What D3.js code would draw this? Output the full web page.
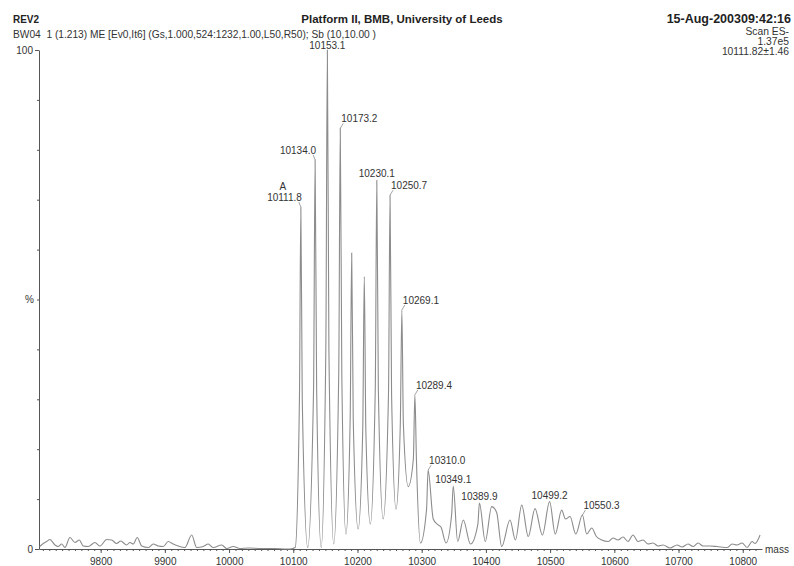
<!DOCTYPE html>
<html>
<head>
<meta charset="utf-8">
<script src="https://cdn.jsdelivr.net/npm/d3@7/dist/d3.min.js"></script>
<style>
  body { margin: 0; background: #fff; }
  svg { display: block; font-family: "Liberation Sans", Arial, sans-serif; }
  .axis path, .axis line { stroke: #555; }
  .axis text { fill: #333; font-size: 10px; font-family: "Liberation Sans", Arial, sans-serif; }
</style>
</head>
<body>
<div id="main"></div>
<script>
// spectrum profile (mass, % intensity)
const leftMass = [9705, 9710.6, 9716, 9721, 9728.8, 9733.9, 9739.2, 9744.4, 9752.2, 9760, 9766.7, 9772.9,
  9780.7, 9791.2, 9799, 9809.4, 9817.1, 9824.9, 9831.2, 9840.5, 9845.6, 9850.8, 9857, 9863.9, 9874.1,
  9881.9, 9889.7, 9897.5, 9905.3, 9913.1, 9920.9, 9931.3, 9941.8, 9949.5, 9959.8, 9967.6, 9975.4,
  9988.5, 9996.3, 10006.6, 10017, 10030, 10050, 10070, 10090];
const leftInt = [0.5, 1.1, 1.5, 1.9, 0.8, 0.5, 1.0, 0.3, 2.3, 1.3, 1.8, 0.6,
  0.5, 1.3, 0.6, 1.9, 1.8, 1.1, 1.6, 0.8, 1.3, 1.0, 2.3, 0.6, 0.3,
  1.0, 0.6, 0.5, 1.5, 1.0, 0.6, 0.3, 2.8, 0.3, 0.5, 1.0, 0.3,
  0.8, 0.1, 0.5, 0.1, 0.2, 0.1, 0.1, 0.0];

const mainMass = [10095, 10103, 10109.6, 10111.8, 10114, 10122.5, 10131.6, 10134, 10136.4, 10143.5,
  10150.7, 10153.1, 10155.5, 10163, 10170.8, 10173.2, 10175.6, 10182, 10188.6, 10191, 10193.4, 10201,
  10208.2, 10210.6, 10213, 10220, 10227.7, 10230.1, 10232.5, 10240, 10248.3, 10250.7, 10253.1, 10260,
  10266.7, 10269.1, 10271.5, 10279, 10287, 10289.4, 10291.8, 10298, 10307.6, 10310, 10318, 10324, 10330,
  10338, 10346.7, 10349.1, 10356, 10364.8, 10376, 10387.5, 10389.9, 10399, 10409, 10416.8, 10424.6,
  10437.5, 10446, 10455.8, 10466, 10476.5, 10488, 10499.2, 10508, 10518, 10524, 10531, 10540, 10550.3,
  10557, 10564.8, 10572];
const mainInt = [0, 0.3, 30, 68.5, 30, 0.3, 32, 78, 32, 0.3,
  40, 100, 40, 1, 35, 84.3, 35, 3, 26, 59.3, 26, 4,
  24, 54.6, 24, 5, 32, 73.9, 32, 6, 31, 70.9, 31, 8,
  25, 47.9, 25, 12.5, 18, 30.9, 18, 1.2, 8, 15.8, 6, 5, 4.4,
  1.2, 7, 12.6, 1.5, 5.8, 1.0, 5, 9.2, 1.5, 8.5, 7.3, 0.5,
  5.8, 1.8, 8.8, 2.5, 8.1, 2.8, 9.5, 3, 7.8, 6, 6.5, 3, 6.8,
  3, 4.2, 2.5];

const tailMass = [10580.4, 10590.2, 10598, 10605.8, 10613.6, 10621.3, 10629.1, 10636.9, 10644.7, 10652.5,
  10660.3, 10668.1, 10675.9, 10686.8, 10697.7, 10705.5, 10714.8, 10722.6, 10730.4, 10738.2, 10749.1,
  10760, 10775.6, 10783.4, 10791.2, 10799, 10806.8, 10814.6, 10819.2, 10827];
const tailInt = [1.8, 1.5, 2.2, 1.8, 2.4, 1.5, 2.8, 1.5, 1.8, 1.0,
  1.2, 0.6, 0.8, 0.2, 0.8, 0.4, 1.0, 0.5, 1.2, 0.6, 0.6,
  0.5, 0.3, 1.0, 0.8, 1.2, 0.3, 1.5, 1.1, 2.8];

// labelled peaks
const peakMass = [10111.8, 10134.0, 10153.1, 10173.2, 10230.1, 10250.7, 10269.1, 10289.4, 10310.0, 10349.1, 10389.9, 10499.2, 10550.3];
const peakInt = [68.5, 78, 100, 84.3, 73.9, 70.9, 47.9, 30.9, 15.8, 12.6, 9.2, 9.5, 6.8];

const xTicks = d3.range(9800, 10801, 100);
const yTicks = [0, 100];

const w = 794, h = 566;

const profile = [];
[[leftMass, leftInt], [mainMass, mainInt], [tailMass, tailInt]].forEach(([m, v]) => {
  m.forEach((d, i) => profile.push([d, v[i]]));
});

const x = d3.scaleLinear().domain([9704, 10830]).range([39, 762]);
const y = d3.scaleLinear().domain([0, 100]).range([549, 50]);

const svg = d3.select('#main').append('svg').attr('width', w).attr('height', h);

// header
svg.append('text').attr('x', 13).attr('y', 23).attr('font-size', 11.5).attr('font-weight', 'bold')
  .attr('fill', '#222').attr('textLength', 26).attr('lengthAdjust', 'spacingAndGlyphs').text('REV2');
svg.append('text').attr('x', 402).attr('y', 23).attr('font-size', 11.5).attr('font-weight', 'bold')
  .attr('text-anchor', 'middle').attr('fill', '#222').text('Platform II, BMB, University of Leeds');
svg.append('text').attr('x', 791).attr('y', 23).attr('font-size', 12.5).attr('font-weight', 'bold')
  .attr('text-anchor', 'end').attr('fill', '#222').text('15-Aug-200309:42:16');
svg.append('text').attr('x', 13).attr('y', 38).attr('font-size', 10.2)
  .attr('fill', '#333').text('BW04  1 (1.213) ME [Ev0,It6] (Gs,1.000,524:1232,1.00,L50,R50); Sb (10,10.00 )')
  .style('white-space', 'pre');
['Scan ES-', '1.37e5', '10111.82\u00b11.46'].forEach((t, i) => {
  svg.append('text').attr('x', 789).attr('y', 35 + i * 10).attr('font-size', 10.3)
    .attr('text-anchor', 'end').attr('fill', '#333').text(t);
});

// x axis: minor then major ticks
svg.append('g').attr('class', 'axis').attr('transform', 'translate(0,549)')
  .call(d3.axisBottom(x).tickValues(d3.range(9710, 10830, 10)).tickSize(2).tickSizeOuter(0).tickFormat(''));
svg.append('g').attr('class', 'axis').attr('transform', 'translate(0,549)')
  .call(d3.axisBottom(x).tickValues(xTicks).tickSize(4).tickSizeOuter(0).tickPadding(5).tickFormat(d3.format('d')))
  .call(g => g.select('.domain').remove());
svg.append('text').attr('x', 765).attr('y', 553).attr('font-size', 10).attr('fill', '#333').text('mass');

// y axis
svg.append('g').attr('class', 'axis').attr('transform', 'translate(39,0)')
  .call(d3.axisLeft(y).tickValues(d3.range(10, 100, 10)).tickSize(2).tickSizeOuter(0).tickFormat(''));
svg.append('g').attr('class', 'axis').attr('transform', 'translate(39,0)')
  .call(d3.axisLeft(y).tickValues(yTicks).tickSize(4).tickSizeOuter(0).tickPadding(2).tickFormat(d3.format('d')))
  .call(g => g.select('.domain').remove());
svg.append('text').attr('x', 34).attr('y', y(50) + 3.5).attr('font-size', 10)
  .attr('text-anchor', 'end').attr('fill', '#333').text('%');

// spectrum
const line = d3.line().x(d => x(d[0])).y(d => y(d[1])).curve(d3.curveMonotoneX);
svg.append('path').datum(profile).attr('d', line)
  .attr('fill', 'none').attr('stroke', '#8c8c8c').attr('stroke-width', 1.1);

// peak labels: anchor per peak (end = label sits left of the peak)
const anchorFor = { 10111.8: 'end', 10134: 'end', 10173.2: 'start', 10250.7: 'start', 10269.1: 'start',
  10289.4: 'start', 10310: 'start', 10550.3: 'start' };

const labels = svg.append('g');
peakMass.forEach((m, i) => {
  const px = x(m), py = y(peakInt[i]);
  const a = anchorFor[m] || 'middle';
  let lx = px, ly = py - 3;
  if (py < 60) ly = py - 1;   // the top peak label sits right under the header line
  if (a === 'start') { lx = px + 1; ly = py - 6; }
  if (a === 'end') { lx = px + 1; ly = py - 6; }
  if (a !== 'middle') {
    labels.append('line').attr('x1', px).attr('y1', py).attr('x2', a === 'start' ? px + 3 : px - 2).attr('y2', ly + 1)
      .attr('stroke', '#8c8c8c').attr('stroke-width', 0.8);
  }
  labels.append('text').attr('x', lx).attr('y', ly).attr('font-size', 10).attr('fill', '#333')
    .attr('text-anchor', a).text(d3.format('.1f')(m));
});
// "A" marker above the first labelled peak
svg.append('text').attr('x', x(peakMass[0]) - 18).attr('y', y(peakInt[0]) - 17).attr('font-size', 10)
  .attr('text-anchor', 'middle').attr('fill', '#333').text('A');
</script>
</body>
</html>
